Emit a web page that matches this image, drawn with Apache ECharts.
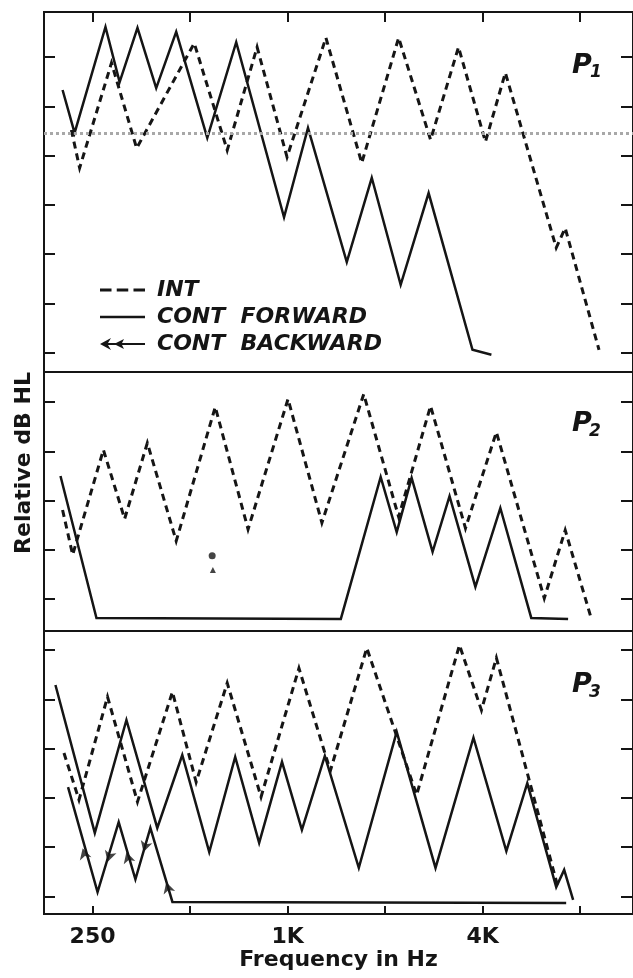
<!DOCTYPE html>
<html>
<head>
<meta charset="utf-8">
<script src="https://cdn.jsdelivr.net/npm/echarts@6/dist/echarts.min.js"></script>
<style>
html,body{margin:0;padding:0;background:#fff;}
#c{width:633px;height:978px;}
</style>
</head>
<body>
<div id="c"></div>
<script>
// ---------- data (frequency in Hz, relative dB HL; 10 dB per tick) ----------
const freqTicksHz = [250, 500, 1000, 2000, 4000, 8000];
const freqLabelHz = [250, 1000, 4000];
const freqLabelText = ['250', '1K', '4K'];
const xMinHz = 177;
const xMaxHz = 11650;

// Panel P1
const p1IntHz = [215, 228, 286, 342, 515, 651, 805, 996, 1313, 1694, 2202, 2763, 3370, 4081, 4702, 6750, 7195, 9150];
const p1IntDb = [14.8, 22.5, 1.2, 18.5, -2.8, 18.9, -2.0, 20.3, -3.9, 21.5, -3.9, 16.8, -2.0, 17.2, 3.2, 38.7, 34.7, 59.4];
const p1FwdHz = [202, 220, 274, 303, 344, 393, 453, 565, 694, 975, 1156, 1523, 1819, 2234, 2725, 3722, 4258];
const p1FwdDb = [6.7, 15.4, -6.1, 5.1, -5.9, 6.3, -5.1, 16.4, -3.0, 32.5, 14.4, 41.6, 24.5, 46.2, 27.6, 59.4, 60.4];
const p1RefDb = 15.4;
const p1Ticks = [0, 10, 20, 30, 40, 50, 60];
const p1Range = [-9.13, 63.9];

// Panel P2
const p2IntHz = [202, 217, 270, 314, 369, 453, 598, 755, 1003, 1276, 1718, 2202, 2763, 3541, 4411, 6200, 7195, 8650];
const p2IntDb = [21.9, 31.0, 9.7, 23.7, 8.3, 28.2, 1.0, 25.8, -0.6, 24.5, -1.6, 23.3, 0.8, 25.6, 6.1, 39.8, 26.0, 43.8];
const p2FwdHz = [199, 257, 1460, 1938, 2172, 2415, 2803, 3162, 3800, 4537, 5653, 7345];
const p2FwdDb = [15.0, 43.8, 44.0, 15.2, 26.4, 15.4, 30.4, 19.1, 37.5, 21.5, 43.8, 44.0];
const p2MarkHz = [585, 588];
const p2MarkDb = [31.2, 34.1];
const p2Ticks = [0, 10, 20, 30, 40];
const p2Range = [-6.09, 46.45];

// Panel P3
const p3IntHz = [204, 227, 278, 344, 441, 522, 651, 828, 1084, 1355, 1756, 2502, 3393, 3967, 4411, 6845];
const p3IntDb = [20.9, 30.4, 9.5, 30.8, 8.5, 26.8, 6.7, 29.8, 3.7, 24.5, -0.4, 29.4, -1.0, 12.2, 1.6, 48.3];
const p3FwdHz = [192, 254, 318, 396, 473, 573, 689, 817, 961, 1107, 1303, 1659, 2172, 2862, 3748, 4735, 5495, 6750, 7142, 7612];
const p3FwdDb = [7.1, 37.1, 14.2, 36.1, 21.3, 41.0, 21.7, 39.1, 22.7, 36.5, 21.5, 44.2, 16.6, 44.2, 17.8, 40.8, 27.0, 48.1, 44.6, 50.7];
const p3BwdHz = [210, 259, 301, 339, 377, 441, 7245];
const p3BwdDb = [27.8, 49.1, 34.9, 46.5, 36.1, 51.1, 51.3];
const p3ArrowHz = [233, 278, 318, 359, 422];
const p3ArrowDb = [40.2, 43.0, 41.0, 41.0, 47.1];
const p3Ticks = [0, 10, 20, 30, 40, 50];
const p3Range = [-3.85, 53.55];

const legendNames = ['INT', 'CONT FORWARD', 'CONT BACKWARD'];

// ---------- helpers ----------
const oct = f => Math.log2(f / 250);
const pts = (hz, db) => hz.map((f, i) => [oct(f), db[i]]);
const INK = '#151515';
const FONT = "'DejaVu Sans', sans-serif";

const grids = [
  {left: 44, top: 12, width: 591, height: 360},
  {left: 44, top: 372, width: 591, height: 259},
  {left: 44, top: 631, width: 591, height: 283}
].map(g => Object.assign(g, {show: true, borderColor: INK, borderWidth: 2, backgroundColor: 'transparent', containLabel: false}));

function xAxisFor(i) {
  const ax = {
    type: 'value', gridIndex: i, min: oct(xMinHz), max: oct(xMaxHz),
    splitLine: {show: false}, axisLine: {show: false, onZero: false},
    axisLabel: {show: false}, axisTick: {show: false}
  };
  const tick = (len) => ({show: true, inside: true, length: len,
    lineStyle: {color: INK, width: 2}, customValues: freqTicksHz.map(oct)});
  if (i === 0) { ax.position = 'top'; ax.axisTick = tick(10); }
  if (i === 2) {
    ax.position = 'bottom';
    ax.axisTick = tick(8);
    ax.axisLabel = {
      show: true, customValues: freqLabelHz.map(oct), margin: 12,
      color: INK, fontFamily: FONT, fontWeight: 'bold', fontSize: 22,
      formatter: v => {
        const k = freqLabelHz.findIndex(f => Math.abs(oct(f) - v) < 1e-6);
        return k >= 0 ? freqLabelText[k] : '';
      }
    };
    ax.name = 'Frequency in Hz';
    ax.nameLocation = 'middle';
    ax.nameGap = 34;
    ax.nameTextStyle = {color: INK, fontFamily: FONT, fontWeight: 'bold', fontSize: 22, verticalAlign: 'top'};
  }
  return ax;
}

function yAxesFor(i, range, ticks) {
  const mk = pos => ({
    type: 'value', gridIndex: i, inverse: true, min: range[0], max: range[1], position: pos,
    axisLine: {show: false, onZero: false}, axisLabel: {show: false}, splitLine: {show: false},
    axisTick: {show: true, inside: true, length: pos === 'right' ? 12 : 11, lineStyle: {color: INK, width: 2}, customValues: ticks}
  });
  return [mk('left'), mk('right')];
}

function lineSeries(name, gi, hz, db, dashed, extra) {
  return Object.assign({
    type: 'line', name, xAxisIndex: gi, yAxisIndex: gi * 2,
    data: pts(hz, db), symbol: 'none', silent: true,
    lineStyle: {color: INK, width: dashed ? 3 : 2.5, type: dashed ? [7, 5] : 'solid', cap: 'butt', join: 'miter'},
    itemStyle: {color: INK}, z: 3
  }, extra || {});
}

const series = [
  lineSeries('INT', 0, p1IntHz, p1IntDb, true, {
    markLine: {
      silent: true, symbol: ['none', 'none'], label: {show: false}, animation: false,
      lineStyle: {color: '#a8a8a8', type: 'dotted', width: 3},
      data: [{yAxis: p1RefDb}]
    }
  }),
  lineSeries('CONT FORWARD', 0, p1FwdHz, p1FwdDb, false),
  lineSeries('INT', 1, p2IntHz, p2IntDb, true),
  lineSeries('CONT FORWARD', 1, p2FwdHz, p2FwdDb, false),
  {
    type: 'scatter', name: 'marks', xAxisIndex: 1, yAxisIndex: 2, silent: true,
    data: p2MarkHz.map((f, i) => ({value: [oct(f), p2MarkDb[i]], symbol: i === 0 ? 'circle' : 'triangle', symbolSize: i === 0 ? 7 : 6})),
    itemStyle: {color: INK}
  },
  lineSeries('INT', 2, p3IntHz, p3IntDb, true),
  lineSeries('CONT FORWARD', 2, p3FwdHz, p3FwdDb, false),
  lineSeries('CONT BACKWARD', 2, p3BwdHz, p3BwdDb, false, {id: 'bwd'}),
  {
    type: 'scatter', id: 'arrows', name: 'arrows', xAxisIndex: 2, yAxisIndex: 4, silent: true,
    symbol: 'arrow', symbolSize: [9, 11],
    data: pts(p3ArrowHz, p3ArrowDb),
    itemStyle: {color: INK}, z: 4
  }
];

const dashIcon = 'path://M0,5.5 H11 V8.5 H0 Z M16,5.5 H27 V8.5 H16 Z M32,5.5 H43 V8.5 H32 Z';
const solidIcon = 'path://M0,5.8 H45 V8.3 H0 Z';
const arrowIcon = 'path://M0,7 L11,1 L8,6 L16,6 L24,2 L22,6 L45,6 L45,8 L22,8 L24,12 L16,8 L8,8 L11,13 Z';

const option = {
  animation: false,
  backgroundColor: '#fff',
  grid: grids,
  xAxis: [0, 1, 2].map(xAxisFor),
  yAxis: [].concat(yAxesFor(0, p1Range, p1Ticks), yAxesFor(1, p2Range, p2Ticks), yAxesFor(2, p3Range, p3Ticks)),
  legend: {
    orient: 'vertical', left: 95, top: 274, itemWidth: 45, itemHeight: 14, itemGap: 5,
    selectedMode: false,
    data: [{name: legendNames[0], icon: dashIcon}, {name: legendNames[1], icon: solidIcon}, {name: legendNames[2], icon: arrowIcon}],
    itemStyle: {color: INK, borderWidth: 0},
    formatter: n => n.replace(' ', '  '),
    textStyle: {color: INK, fontFamily: FONT, fontWeight: 'bold', fontStyle: 'italic', fontSize: 22, lineHeight: 22, padding: [0, 0, 0, 7]}
  },
  graphic: [
    {type: 'text', x: 24, y: 463, rotation: Math.PI / 2,
      style: {text: 'Relative dB HL', fill: INK, font: `bold 22px ${FONT}`, align: 'center', verticalAlign: 'middle'}},
    {type: 'text', x: 572, y: 52, style: {text: 'P', fill: INK, font: `italic bold 27px ${FONT}`}},
    {type: 'text', x: 590, y: 64, style: {text: '1', fill: INK, font: `italic bold 17px ${FONT}`}},
    {type: 'text', x: 572, y: 410, style: {text: 'P', fill: INK, font: `italic bold 27px ${FONT}`}},
    {type: 'text', x: 589, y: 423, style: {text: '2', fill: INK, font: `italic bold 17px ${FONT}`}},
    {type: 'text', x: 572, y: 671, style: {text: 'P', fill: INK, font: `italic bold 27px ${FONT}`}},
    {type: 'text', x: 589, y: 684, style: {text: '3', fill: INK, font: `italic bold 17px ${FONT}`}}
  ],
  series
};

const chart = echarts.init(document.getElementById('c'), null, {renderer: 'canvas'});
chart.setOption(option);

// orient the backward-sweep arrowheads along the trace, pointing toward lower frequency
const bw = pts(p3BwdHz, p3BwdDb);
const finder = {seriesId: 'bwd'};
const arrowData = pts(p3ArrowHz, p3ArrowDb).map(p => {
  let k = 0;
  while (k < bw.length - 2 && bw[k + 1][0] < p[0]) k++;
  const a = chart.convertToPixel(finder, bw[k]);
  const b = chart.convertToPixel(finder, bw[k + 1]);
  const dx = a[0] - b[0], dy = a[1] - b[1];
  const rot = Math.atan2(-dy, dx) * 180 / Math.PI - 90;
  return {value: p, symbolRotate: rot};
});
chart.setOption({series: [{id: 'arrows', data: arrowData}]});
</script>
</body>
</html>
